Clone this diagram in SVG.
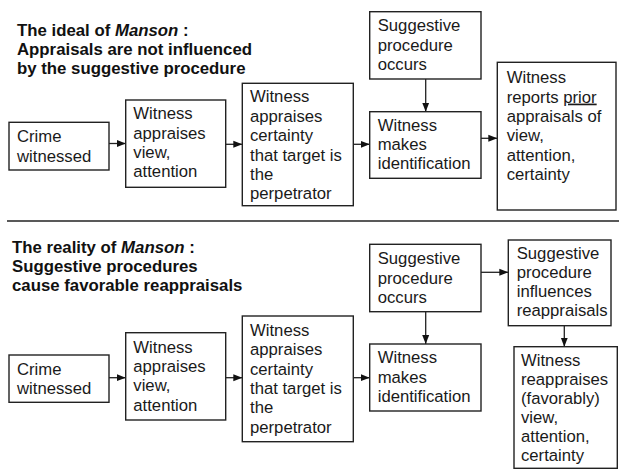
<svg xmlns="http://www.w3.org/2000/svg" width="619" height="469" viewBox="0 0 619 469">
<defs>
<style>
.box{fill:#fff;stroke:#222;stroke-width:1.4}
.t{font-family:"Liberation Sans",Arial,sans-serif;font-size:16.7px;fill:#1a1a1a}
.h{font-family:"Liberation Sans",Arial,sans-serif;font-size:16.8px;font-weight:bold;fill:#111}
.c{stroke:#222;stroke-width:1.3;fill:none}
</style>
<marker id="ah" markerWidth="10" markerHeight="8" refX="9" refY="4" orient="auto" markerUnits="userSpaceOnUse">
<path d="M0,0.5 L9,4 L0,7.5 Z" fill="#111"/>
</marker>
</defs>
<rect width="619" height="469" fill="#fff"/>

<!-- Titles -->
<g id="title-top">
<text class="h" x="17" y="35.7">The ideal of <tspan font-style="italic">Manson</tspan> :</text>
<text class="h" x="17" y="55.2">Appraisals are not influenced</text>
<text class="h" x="17" y="74.2">by the suggestive procedure</text>
</g>
<g id="title-bottom">
<text class="h" x="12" y="252.7">The reality of <tspan font-style="italic">Manson</tspan> :</text>
<text class="h" x="12" y="271.7">Suggestive procedures</text>
<text class="h" x="12" y="290.7">cause favorable reappraisals</text>
</g>

<line id="divider" x1="7" y1="221" x2="619" y2="221" stroke="#222" stroke-width="1.4"/>

<!-- Connectors -->
<g id="connectors">
<line class="c" x1="109" y1="143.5" x2="125.7" y2="143.5" marker-end="url(#ah)"/>
<line class="c" x1="225.7" y1="144.3" x2="242.3" y2="144.3" marker-end="url(#ah)"/>
<line class="c" x1="353.3" y1="144.3" x2="369.7" y2="144.3" marker-end="url(#ah)"/>
<line class="c" x1="425.7" y1="79" x2="425.7" y2="111.7" marker-end="url(#ah)"/>
<line class="c" x1="481" y1="138.3" x2="497.3" y2="138.3" marker-end="url(#ah)"/>

<line class="c" x1="109" y1="377.7" x2="125.7" y2="377.7" marker-end="url(#ah)"/>
<line class="c" x1="225.7" y1="377.7" x2="242.3" y2="377.7" marker-end="url(#ah)"/>
<line class="c" x1="353.3" y1="377.7" x2="369.7" y2="377.7" marker-end="url(#ah)"/>
<line class="c" x1="425.7" y1="311.7" x2="425.7" y2="344" marker-end="url(#ah)"/>
<line class="c" x1="481" y1="272.3" x2="508.3" y2="272.3" marker-end="url(#ah)"/>
<line class="c" x1="564.3" y1="325.7" x2="564.3" y2="346.7" marker-end="url(#ah)"/>
</g>

<!-- Top row nodes -->
<g id="top-crime">
<rect class="box" x="9" y="122.3" width="100" height="47.7"/>
<text class="t" x="17" y="142.3">Crime</text>
<text class="t" x="17" y="161.6">witnessed</text>
</g>
<g id="top-appraises-view">
<rect class="box" x="125.7" y="100" width="100" height="87.3"/>
<text class="t" x="133.3" y="119.3">Witness</text>
<text class="t" x="133.3" y="138.6">appraises</text>
<text class="t" x="133.3" y="157.9">view,</text>
<text class="t" x="133.3" y="177.2">attention</text>
</g>
<g id="top-appraises-certainty">
<rect class="box" x="242.3" y="83.3" width="111" height="122.4"/>
<text class="t" x="250" y="102.3">Witness</text>
<text class="t" x="250" y="121.7">appraises</text>
<text class="t" x="250" y="141.1">certainty</text>
<text class="t" x="250" y="160.5">that target is</text>
<text class="t" x="250" y="179.9">the</text>
<text class="t" x="250" y="199.3">perpetrator</text>
</g>
<g id="top-suggestive">
<rect class="box" x="369.7" y="11.7" width="111.3" height="67.3"/>
<text class="t" x="377.7" y="31.2">Suggestive</text>
<text class="t" x="377.7" y="50.5">procedure</text>
<text class="t" x="377.7" y="69.6">occurs</text>
</g>
<g id="top-identification">
<rect class="box" x="369.7" y="111.7" width="111.3" height="66.6"/>
<text class="t" x="377.7" y="130.7">Witness</text>
<text class="t" x="377.7" y="150">makes</text>
<text class="t" x="377.7" y="169.2">identification</text>
</g>
<g id="top-reports">
<rect class="box" x="497.3" y="62.3" width="118.7" height="147.7"/>
<text class="t" x="506.7" y="83.3">Witness</text>
<text class="t" x="506.7" y="102.6">reports <tspan text-decoration="underline">prior</tspan></text>
<text class="t" x="506.7" y="121.9">appraisals of</text>
<text class="t" x="506.7" y="141.2">view,</text>
<text class="t" x="506.7" y="160.5">attention,</text>
<text class="t" x="506.7" y="179.8">certainty</text>
</g>

<!-- Bottom row nodes -->
<g id="bot-crime">
<rect class="box" x="9" y="355" width="100" height="47.3"/>
<text class="t" x="17" y="375">Crime</text>
<text class="t" x="17" y="394.3">witnessed</text>
</g>
<g id="bot-appraises-view">
<rect class="box" x="125.7" y="332.7" width="100" height="87.3"/>
<text class="t" x="133.3" y="352.7">Witness</text>
<text class="t" x="133.3" y="372">appraises</text>
<text class="t" x="133.3" y="391.3">view,</text>
<text class="t" x="133.3" y="410.6">attention</text>
</g>
<g id="bot-appraises-certainty">
<rect class="box" x="242.3" y="316" width="111" height="125.7"/>
<text class="t" x="250" y="335.7">Witness</text>
<text class="t" x="250" y="355.1">appraises</text>
<text class="t" x="250" y="374.5">certainty</text>
<text class="t" x="250" y="393.9">that target is</text>
<text class="t" x="250" y="413.3">the</text>
<text class="t" x="250" y="432.7">perpetrator</text>
</g>
<g id="bot-suggestive">
<rect class="box" x="369.7" y="244.3" width="111.3" height="67.4"/>
<text class="t" x="377.7" y="264.3">Suggestive</text>
<text class="t" x="377.7" y="283.6">procedure</text>
<text class="t" x="377.7" y="302.9">occurs</text>
</g>
<g id="bot-identification">
<rect class="box" x="369.7" y="344" width="111.3" height="67"/>
<text class="t" x="377.7" y="363.3">Witness</text>
<text class="t" x="377.7" y="382.6">makes</text>
<text class="t" x="377.7" y="401.9">identification</text>
</g>
<g id="bot-influences">
<rect class="box" x="508.3" y="240" width="102.7" height="85.7"/>
<text class="t" x="516.7" y="259.3">Suggestive</text>
<text class="t" x="516.7" y="278.2">procedure</text>
<text class="t" x="516.7" y="297.1">influences</text>
<text class="t" x="516.7" y="316">reappraisals</text>
</g>
<g id="bot-reappraises">
<rect class="box" x="514" y="346.7" width="103.3" height="121.6"/>
<text class="t" x="521" y="366">Witness</text>
<text class="t" x="521" y="384.9">reappraises</text>
<text class="t" x="521" y="403.8">(favorably)</text>
<text class="t" x="521" y="422.7">view,</text>
<text class="t" x="521" y="441.6">attention,</text>
<text class="t" x="521" y="460.5">certainty</text>
</g>
</svg>
